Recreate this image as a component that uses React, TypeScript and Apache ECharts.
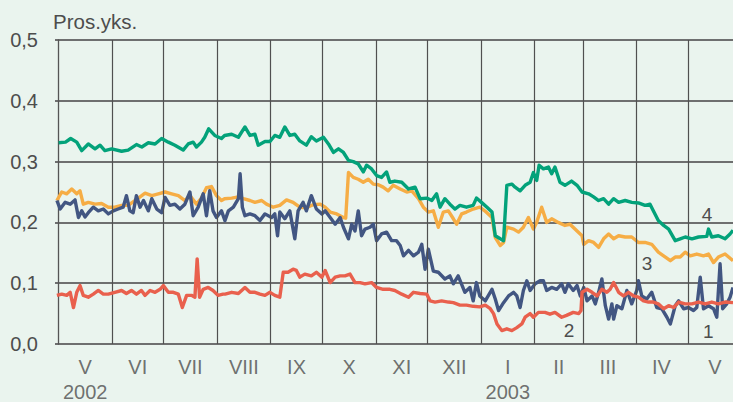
import React, { useEffect, useRef } from "react";
import * as echarts from "echarts";

// x values: days since 1 May 2002
const monthStarts = [31, 61, 92, 123, 153, 184, 214, 245, 276, 304, 335, 365];
const monthNames = ["V", "VI", "VII", "VIII", "IX", "X", "XI", "XII", "I", "II", "III", "IV", "V"];
const monthMids = [15.5, 46, 76.5, 107.5, 138, 168.5, 199, 229.5, 260.5, 290, 318.5, 349.5, 380.5];
const yearLabels = ["2002", "", "", "", "", "", "", "", "2003", "", "", "", ""];
const yTicks = [0, 0.1, 0.2, 0.3, 0.4, 0.5];

const series4Green: [number, number][] = [
  [0.1,0.331],[4.1,0.332],[7.1,0.338],[10.6,0.332],[13.5,0.318],[17.3,0.329],[21.2,0.321],[24.1,0.327],[26.9,0.318],[30.8,0.321],[36.6,0.317],[40.4,0.319],[45.2,0.328],[48.3,0.324],[52.1,0.331],[56,0.329],[59.8,0.338],[63.7,0.332],[67.5,0.327],[72.3,0.319],[75.2,0.329],[78.1,0.332],[80,0.324],[82.9,0.332],[84.8,0.340],[87.1,0.354],[90.6,0.343],[94.5,0.338],
  [96.3,0.343],[100.4,0.345],[104.3,0.340],[108.1,0.357],[111,0.343],[113.9,0.345],[115.8,0.327],[119.7,0.333],[122.6,0.333],[125.4,0.343],[128.3,0.340],[131.2,0.357],[134.1,0.343],[137,0.345],[139.9,0.334],[143.7,0.327],[146.6,0.341],[149.5,0.334],[153.6,0.340],[156.5,0.329],[159.4,0.315],[162.3,0.321],[165.2,0.315],[168.1,0.302],[170.9,0.300],[173.8,0.296],[176.7,0.283],[178.6,0.294],[181.5,0.288],[184.4,0.277],[187.3,0.274],[190.2,0.283],[192.1,0.266],[195,0.268],
  [199,0.266],[202.9,0.255],[206.7,0.258],[209.6,0.239],[213.5,0.240],[216.4,0.236],[219.2,0.247],[221.2,0.225],[224,0.239],[226.9,0.230],[229.8,0.222],[232.7,0.228],[236.5,0.225],[240.4,0.228],[242.3,0.240],[245.2,0.233],[248.4,0.225],[251.3,0.217],[253.2,0.178],[256.1,0.173],[258,0.170],[259.9,0.261],[262.8,0.263],[264.7,0.258],[267.6,0.252],[270.5,0.261],[273.4,0.266],[275.3,0.282],[277.2,0.269],[278.6,0.294],[281.1,0.288],[284,0.291],[285.9,0.280],[287.8,0.291],[290.7,0.266],
  [293.6,0.261],[297.4,0.268],[300.6,0.261],[303.5,0.250],[307.3,0.247],[310.2,0.242],[313.1,0.236],[316,0.239],[318.9,0.230],[321.8,0.239],[324.7,0.233],[328.5,0.236],[332.3,0.233],[336.2,0.232],[340,0.228],[342.9,0.230],[344.8,0.219],[347.7,0.203],[350.8,0.195],[353.7,0.189],[357.5,0.170],[360.4,0.173],[363.3,0.176],[367.2,0.173],[371,0.176],[375.8,0.177],[376.8,0.189],[378.7,0.176],[382.5,0.178],[386.4,0.173],[389.3,0.181],[391,0.187],
];

const series3Orange: [number, number][] = [
  [-0.9,0.236],[1.9,0.250],[4.8,0.247],[7.7,0.255],[10.6,0.247],[12.5,0.252],[14.4,0.230],[17.3,0.233],[21.2,0.230],[25,0.231],[28.9,0.225],[32.7,0.225],[36.6,0.228],[40.4,0.228],[44.3,0.236],[47.3,0.242],[50.2,0.248],[54.1,0.244],[57.9,0.247],[61.8,0.250],[65.6,0.247],[69.5,0.244],[73.3,0.236],[76.2,0.244],[80,0.230],[82.9,0.240],[85.8,0.257],[88.7,0.259],[91.6,0.244],[94.5,0.236],
  [96.3,0.239],[100.4,0.240],[104.3,0.242],[107.2,0.239],[111,0.236],[113.9,0.233],[117.8,0.236],[120.6,0.230],[124.5,0.225],[128.3,0.228],[132.2,0.237],[136,0.233],[139.9,0.225],[143.7,0.224],[147.6,0.229],[151.7,0.230],[154.6,0.225],[157.5,0.217],[161.3,0.214],[165.2,0.208],[166.5,0.207],[168.1,0.282],[170.9,0.274],[173.8,0.271],[176.7,0.266],[179.6,0.271],[182.5,0.263],[185.4,0.262],[188.2,0.258],[191.1,0.252],[194,0.261],
  [198.1,0.255],[201.9,0.250],[204.8,0.252],[208.7,0.239],[211.5,0.225],[214.4,0.217],[217.3,0.219],[220.2,0.192],[223.1,0.217],[226,0.219],[228.9,0.206],[230.8,0.197],[233.7,0.214],[236.5,0.217],[240.4,0.222],[244.2,0.225],[247.1,0.219],[251.3,0.208],[253.2,0.175],[256.1,0.162],[258,0.167],[259.9,0.192],[263.8,0.189],[266.7,0.184],[269.5,0.192],[272.4,0.208],[275.3,0.189],[277.2,0.200],[280.1,0.225],[283,0.200],[285.9,0.206],[289.7,0.200],
  [293.6,0.195],[296.5,0.197],[299.4,0.189],[303.5,0.178],[304.5,0.164],[307.3,0.170],[310.2,0.167],[313.1,0.159],[316,0.173],[318.9,0.181],[321.8,0.173],[324.7,0.178],[328.5,0.176],[332.3,0.176],[336.2,0.167],[340,0.167],[343.9,0.164],[347.7,0.151],[351.8,0.143],[354.7,0.137],[357.5,0.143],[360.4,0.143],[363.3,0.151],[366.2,0.145],[370,0.148],[373.9,0.145],[376.8,0.148],[379.7,0.134],[382.5,0.143],[386.4,0.148],[391,0.137],
];

const series1Blue: [number, number][] = [
  [-0.9,0.236],[1,0.222],[3.9,0.233],[6.8,0.230],[9.6,0.237],[11.6,0.208],[13.5,0.219],[15.4,0.209],[17.3,0.216],[20.2,0.225],[23.1,0.219],[26,0.222],[28.9,0.214],[31.8,0.219],[34.6,0.222],[37.5,0.225],[39.4,0.244],[41.4,0.219],[43.3,0.216],[45.2,0.244],[47.3,0.225],[49.3,0.236],[52.1,0.219],[54.1,0.239],[57,0.222],[59.8,0.216],[61.8,0.241],[64.6,0.228],[67.5,0.230],[70.4,0.222],[73.3,0.230],[76.2,0.250],[78.1,0.211],[81,0.225],[83.9,0.247],[85.8,0.211],[87.7,0.252],[89.6,0.219],[91.6,0.208],[94.5,0.219],
  [96.5,0.203],[98.5,0.219],[101.4,0.225],[104.3,0.239],[105.3,0.280],[106.6,0.225],[108.1,0.211],[111,0.214],[113.9,0.211],[116.8,0.203],[119.7,0.214],[123.5,0.208],[125.4,0.214],[127,0.178],[128.3,0.217],[131.2,0.206],[134.1,0.219],[137,0.173],[138.9,0.219],[141.8,0.233],[143.7,0.219],[146.6,0.244],[149.5,0.222],[152.7,0.214],[154.6,0.219],[157.5,0.208],[160.4,0.197],[163.3,0.208],[165.2,0.192],[168.1,0.173],[170,0.197],[171.9,0.186],[173.8,0.219],[175.7,0.178],[177.7,0.189],[180.6,0.192],[182.5,0.197],[184.4,0.170],[187.3,0.181],[190.2,0.184],[193.1,0.170],[195.9,0.170],
  [198.1,0.162],[200,0.145],[202.9,0.154],[205.8,0.145],[208.7,0.151],[210.6,0.164],[212.5,0.123],[214.4,0.156],[217.3,0.120],[220.2,0.118],[224,0.107],[226.9,0.112],[228.9,0.099],[231.7,0.112],[235.6,0.085],[238.5,0.093],[240.4,0.071],[242.3,0.101],[244.2,0.079],[247.4,0.071],[251.3,0.090],[253.2,0.074],[255.1,0.055],[258,0.068],[260.9,0.079],[263.8,0.085],[265.7,0.079],[267.6,0.060],[269.5,0.088],[271.5,0.104],[273.4,0.088],[276.3,0.099],[279.2,0.104],[281.1,0.104],[283,0.088],[285.9,0.093],[288.8,0.090],[291.7,0.099],
  [293.6,0.085],[295.5,0.099],[298.4,0.088],[300.6,0.096],[302.5,0.079],[304.5,0.093],[306.4,0.071],[309.3,0.079],[311.2,0.066],[313.1,0.085],[315,0.107],[317,0.063],[318.9,0.041],[320.8,0.066],[321.8,0.041],[323.7,0.063],[326.6,0.058],[329.5,0.088],[332.3,0.066],[335.2,0.088],[336.2,0.104],[338.1,0.079],[341,0.074],[343.9,0.085],[346.8,0.060],[349.7,0.058],[352.7,0.044],[354.7,0.033],[357.5,0.063],[359.5,0.071],[362.4,0.058],[365.2,0.060],[368.1,0.055],[370,0.060],[372,0.110],[373.9,0.058],[376.8,0.063],[379.7,0.058],[381.6,0.044],[383.5,0.132],[385,0.058],[387.4,0.066],[389.3,0.077],[391,0.093],
];

const series2Red: [number, number][] = [
  [-0.9,0.080],[1.9,0.082],[4.8,0.080],[6.8,0.085],[8.7,0.060],[10.6,0.085],[12.5,0.096],[14.4,0.080],[17.3,0.077],[20.2,0.082],[23.1,0.088],[26,0.082],[28.9,0.082],[32.7,0.085],[36.6,0.088],[39.4,0.083],[42.3,0.088],[45.2,0.082],[48.1,0.088],[50.2,0.080],[53.1,0.088],[56,0.085],[58.9,0.090],[60.8,0.096],[63.7,0.085],[66.6,0.085],[69.5,0.082],[71.8,0.060],[74.3,0.080],[77.1,0.080],[79.1,0.077],[80.4,0.140],[81.8,0.077],[83.9,0.090],[86.8,0.093],[89.6,0.088],[92.5,0.080],[95.4,0.082],
  [96.6,0.082],[100.4,0.085],[104.3,0.083],[108.1,0.093],[111,0.085],[113.9,0.085],[116.8,0.082],[119.7,0.080],[122.6,0.085],[125.4,0.080],[128.3,0.077],[130.3,0.118],[133.1,0.118],[136,0.123],[137.9,0.121],[139.9,0.110],[142.8,0.115],[146.6,0.112],[149.5,0.118],[152.7,0.110],[154.6,0.121],[157.5,0.101],[160.4,0.110],[163.3,0.112],[166.1,0.112],[169,0.115],[171.9,0.101],[174.8,0.101],[177.7,0.099],[181.5,0.101],[184.4,0.093],[188.2,0.090],[192.1,0.090],[195,0.088],
  [199,0.082],[202.9,0.077],[205.8,0.085],[209.6,0.083],[213.5,0.082],[215.4,0.071],[218.3,0.069],[222.1,0.071],[226,0.069],[228.9,0.068],[232.7,0.064],[236.5,0.064],[240.4,0.062],[244.2,0.061],[247.4,0.064],[250.3,0.058],[252.2,0.050],[254.2,0.033],[257,0.022],[259.9,0.025],[262.8,0.022],[265.7,0.027],[268.6,0.033],[270.5,0.044],[273.4,0.050],[275.3,0.044],[278.2,0.052],[282,0.052],[284.9,0.049],[287.8,0.052],[291.7,0.044],
  [294.5,0.047],[298.4,0.052],[301.6,0.050],[302.9,0.055],[303.5,0.085],[306.4,0.090],[309.3,0.085],[312.2,0.079],[315,0.090],[317.9,0.085],[319.8,0.090],[321.8,0.101],[324.7,0.085],[327.5,0.079],[330.4,0.085],[333.3,0.079],[336.2,0.077],[339.1,0.071],[342,0.069],[344.8,0.069],[347.7,0.066],[350.8,0.058],[353.7,0.063],[356.6,0.060],[359.5,0.069],[363.3,0.066],[367.2,0.066],[371,0.069],[374.9,0.066],[378.7,0.069],[382.5,0.066],[386.4,0.069],[391,0.068],
];

// series number tags: [day, value]
const tag1: [number, number] = [376.6, 0.021];
const tag2: [number, number] = [296, 0.022];
const tag3: [number, number] = [341.2, 0.132];
const tag4: [number, number] = [376, 0.213];

const FONT = "'Liberation Sans', Arial, Helvetica, sans-serif";
const TEXT = "#4d4d4d";

function tag(label: string, coord: [number, number]) {
  return {
    symbol: "circle",
    symbolSize: 0,
    silent: true,
    data: [
      {
        coord,
        label: {
          show: true,
          formatter: label,
          position: "inside",
          color: TEXT,
          fontSize: 19,
          fontFamily: FONT,
        },
      },
    ],
  };
}

function lineSeries(name: string, data: [number, number][], color: string, z: number, label: string, coord: [number, number]) {
  return {
    type: "line",
    name,
    data,
    showSymbol: false,
    symbol: "none",
    z,
    lineStyle: { color, width: 3.4, join: "round" },
    markPoint: tag(label, coord),
  };
}

export default function App() {
  const ref = useRef<HTMLDivElement>(null);
  useEffect(() => {
    if (!ref.current) return;
    const chart = echarts.init(ref.current, undefined, { renderer: "svg" });
    chart.setOption({
      animation: false,
      backgroundColor: "#eaf4ee",
      title: {
        text: "Pros.yks.",
        left: 48,
        top: 6,
        textStyle: { fontSize: 20.5, fontWeight: "normal", color: TEXT, fontFamily: FONT },
      },
      grid: { left: 55, right: 0, top: 40, bottom: 58, containLabel: false },
      xAxis: {
        type: "value",
        min: -2,
        max: 391,
        axisLabel: { show: false },
        axisTick: { show: false },
        axisLine: { show: false },
        splitLine: { show: false },
      },
      yAxis: {
        type: "value",
        min: 0,
        max: 0.5,
        interval: 0.1,
        axisLine: { show: true, lineStyle: { color: "#555", width: 1.3 } },
        axisTick: { show: false },
        axisLabel: {
          margin: 17,
          fontSize: 20,
          color: TEXT,
          fontFamily: FONT,
          formatter: (v: number) => (yTicks.includes(Math.round(v * 10) / 10) ? v.toFixed(1).replace(".", ",") : ""),
        },
        splitLine: { show: true, lineStyle: { color: "#606060", width: 1.8, opacity: 0.9 } },
      },
      series: [
        {
          type: "scatter",
          data: monthMids.map((d, i) => ({ value: [d, 0], name: monthNames[i] + (yearLabels[i] ? "\n" + yearLabels[i] : "") })),
          symbol: "circle",
          symbolSize: 1,
          itemStyle: { color: "rgba(0,0,0,0)" },
          clip: false,
          silent: true,
          labelLayout: { hideOverlap: false },
          label: {
            show: true,
            position: "bottom",
            distance: 10,
            formatter: (p: any) => p.name,
            color: TEXT,
            fontSize: 20,
            lineHeight: 25,
            align: "center",
            fontFamily: FONT,
          },
          markLine: {
            silent: true,
            symbol: ["none", "none"],
            label: { show: false },
            lineStyle: { color: "#505050", width: 1.2, type: "solid" },
            data: monthStarts.map((d) => ({ xAxis: d })),
          },
        },
        lineSeries("3", series3Orange, "#f6ad45", 3, "3", tag3),
        lineSeries("1", series1Blue, "#425682", 4, "1", tag1),
        lineSeries("2", series2Red, "#e9604d", 5, "2", tag2),
        lineSeries("4", series4Green, "#03a27a", 6, "4", tag4),
      ],
    });
    return () => chart.dispose();
  }, []);
  return <div ref={ref} style={{ width: 733, height: 402, position: "absolute", left: 0, top: 0 }} />;
}
